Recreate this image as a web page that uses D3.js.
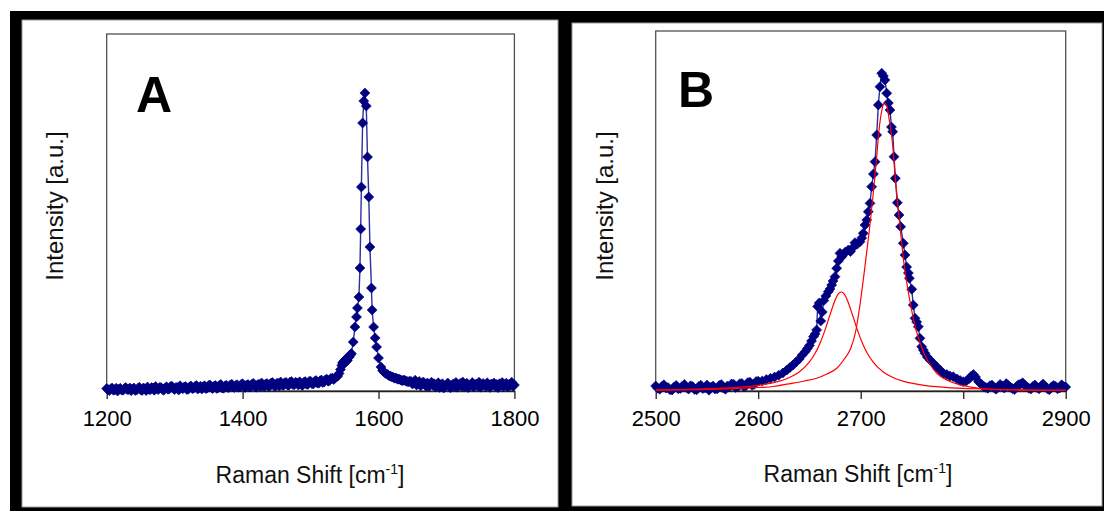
<!DOCTYPE html>
<html>
<head>
<meta charset="utf-8">
<script src="https://cdn.jsdelivr.net/npm/d3@7"></script>
<style>
  html, body { margin: 0; padding: 0; background: #fff; }
  svg { display: block; font-family: "Liberation Sans", Arial, sans-serif; }
</style>
</head>
<body>
<svg id="chart" width="1104" height="511"></svg>
<script>
// ---------- Panel A: G band region (1200–1800 cm-1) ----------
const shiftA = [
  1200,1202,1204,1206,1208,1210,1212,1214,1216,1218,
  1220,1222,1224,1226,1228,1230,1232,1234,1236,1238,
  1240,1242,1244,1246,1248,1250,1252,1254,1256,1258,
  1260,1262,1264,1266,1268,1270,1272,1274,1276,1278,
  1280,1282,1284,1286,1288,1290,1292,1294,1296,1298,
  1300,1302,1304,1306,1308,1310,1312,1314,1316,1318,
  1320,1322,1324,1326,1328,1330,1332,1334,1336,1338,
  1340,1342,1344,1346,1348,1350,1352,1354,1356,1358,
  1360,1362,1364,1366,1368,1370,1372,1374,1376,1378,
  1380,1382,1384,1386,1388,1390,1392,1394,1396,1398,
  1400,1402,1404,1406,1408,1410,1412,1414,1416,1418,
  1420,1422,1424,1426,1428,1430,1432,1434,1436,1438,
  1440,1442,1444,1446,1448,1450,1452,1454,1456,1458,
  1460,1462,1464,1466,1468,1470,1472,1474,1476,1478,
  1480,1482,1484,1486,1488,1490,1492,1494,1496,1498,
  1500,1502,1504,1506,1508,1510,1512,1514,1516,1518,
  1520,1522,1524,1526,1528,1530,1532,1534,1536,1538,
  1540,
  1542,1544,1546,1547,1548,1549,1550,1551,1552,1553,1554,1555,1556,1557,1558,1559,1560,
  1562.8,1565.3,1567.6,1569,1571.2,1572.7,1573.8,1574.8,1576.6,1578.3,1580,1582,1583.8,1585.7,
  1587.4,1589.6,1590.6,1592.8,1595,1597.2,1600,1603.6,
  1606,1608,1610,1612,1614,1616,1618,1620,1622,1624,1626,1628,1630,1632,1634,1636,1638,1640,1642,1644,1646,
  1648,1650,1652,1654,1656,1658,1660,1662,1664,1666,
  1668,1670,1672,1674,1676,1678,1680,1682,1684,1686,
  1688,1690,1692,1694,1696,1698,1700,1702,1704,1706,
  1708,1710,1712,1714,1716,1718,1720,1722,1724,1726,
  1728,1730,1732,1734,1736,1738,1740,1742,1744,1746,
  1748,1750,1752,1754,1756,1758,1760,1762,1764,1766,
  1768,1770,1772,1774,1776,1778,1780,1782,1784,1786,
  1788,1790,1792,1794,1796,1798,1800
];
const intensityA = [
  25,12,5,22,30,8,12,28,0,18,
  28,10,8,24,35,14,15,30,3,20,
  30,6,10,26,38,12,6,30,22,4,
  40,18,12,34,30,8,45,22,14,36,
  35,14,8,30,42,18,20,44,48,26,
  14,36,34,10,52,30,22,40,44,16,
  18,42,50,24,28,46,55,20,32,48,
  20,42,52,24,30,54,60,34,26,48,
  54,26,32,58,64,30,28,50,58,36,
  36,60,68,40,34,56,62,38,40,66,
  72,44,36,60,64,40,42,70,76,46,
  38,62,68,44,80,52,44,70,74,48,
  50,80,84,56,46,74,78,50,90,62,
  54,82,86,60,58,90,94,64,62,88,
  80,60,92,66,56,86,94,68,66,96,
  98,74,70,96,104,80,78,102,110,86,
  90,112,118,98,106,126,128,116,128,140,
  150,
  175,215,255,280,290,270,300,310,320,300,305,330,345,340,355,365,375,
  490,640,740,830,940,1230,1620,2040,2680,2900,2980,2850,2340,1940,
  1440,1030,810,640,530,440,330,240,
  205,190,178,170,162,150,148,140,136,128,130,118,120,112,106,104,110,100,94,92,98,
  95,70,84,108,60,78,96,52,74,90,
  66,48,80,44,62,88,58,72,40,66,
  82,36,58,72,30,52,62,80,46,32,
  58,70,46,86,38,60,74,50,90,42,
  64,78,34,56,64,84,40,62,70,50,
  88,38,58,76,60,44,82,54,36,70,
  62,80,48,66,34,72,58,84,46,64,
  78,40,66,56,88,50,60
];
const ticksA = [1200, 1400, 1600, 1800];

// ---------- Panel B: 2D band region (2500–2900 cm-1) ----------
const shiftB = [
  2500,2502,2504,2506,2508,2510,2512,2514,2516,2518,
  2520,2522,2524,2526,2528,2530,2532,2534,2536,2538,
  2540,2542,2544,2546,2548,2550,2552,2554,2556,2558,
  2560,2562,2564,2566,2568,2570,2572,2574,2576,2578,
  2580,2582,2584,2586,2588,2590,2592,2594,2596,2598,
  2600,
  2604,2608,2612,2616,2620,2624,2628,2631,2634,2637,2640,2643,2646,2648,
  2650,2652,2654,2655.5,2657,2658,2659.5,2661,2662.5,2664,2666,2668.4,2670,2671.7,2673,2674.9,2676.6,
  2678.2,2679.8,2681.5,2683,2685,2687.9,2690,2692,2694.4,2696.7,2699.3,2701,2702.5,2704.2,2705.9,2707.4,
  2709.1,2710.7,2712.4,2714,2715.6,2717.2,2718.8,2720.5,2722.1,2723.7,2725.4,2727,2728.6,2730,2731.2,
  2732.5,2733.8,2735.7,2737.4,2739,2741.6,2743.2,2744.8,2746.5,2747.5,2749.8,2751.3,2753,2754.6,2756.2,
  2757.8,2759.5,2761.1,2762.7,2765,2767.6,2771,2774.1,2777.4,2780.6,2784,2787,2790.3,2794,2797,2800,
  2803,2806,2808,2810,2812,2815,2818,2820,
  2822,2824,2826,2828,2830,2832,2834,2836,2838,2840,
  2842,2844,2846,2848,2850,2852,2854,2856,2858,2860,
  2862,2864,2866,2868,2870,2872,2874,2876,2878,2880,
  2882,2884,2886,2888,2890,2892,2894,2896,2898,2900
];
const intensityB = [
  50,28,18,44,62,30,34,12,10,40,
  56,22,26,48,66,36,20,52,44,16,
  12,46,58,24,32,60,8,38,50,20,
  22,56,64,30,18,50,42,70,68,34,
  40,72,76,44,52,84,88,58,66,94,
  98,
  100,115,127,140,158,180,210,235,260,290,320,360,395,425,
  455,500,545,570,610,845,880,700,790,905,950,993,1020,1060,1100,1143,1227,
  1300,1377,1343,1365,1390,1410,1395,1430,1483,1470,1493,1530,1577,1660,1710,1793,
  1877,2043,2170,2293,2560,2860,3043,3177,3150,3110,2977,2880,2810,2640,2593,
  2343,2127,1883,1760,1643,1477,1360,1240,1180,1127,1017,860,727,690,643,
  527,443,410,377,340,310,275,243,210,177,165,150,143,120,105,93,
  100,125,150,165,140,93,65,45,
  36,28,52,60,34,18,42,66,48,30,
  74,56,38,24,14,44,62,70,82,58,
  40,28,20,46,60,34,22,50,70,42,
  24,12,38,56,48,22,30,62,44,40
];
const ticksB = [2500, 2600, 2700, 2800, 2900];

// Lorentzian components fitted to the 2D band
const fitSmallShift = [2500,2540,2580,2600,2620,2630,2640,2650,2655,2660,2665,2670,2675,2678,2681,
  2684,2687,2692,2697,2702,2707,2712,2722,2732,2742,2762,2782,2822,2862,2900];
const fitSmallInt = [12,20,37,57,96,132,190,291,368,471,604,760,908,968,990,
  968,908,760,604,471,368,291,190,132,96,57,37,20,12,8];
const fitLargeShift = [2500,2540,2570,2600,2615,2630,2645,2657,2667,2677,2684,2690,2695,2699,2703,
  2706,2709,2712,2715,2718,2720.5,2723,2725.5,2728,2731,2734,2737,2740,2742,2745,2748,2753,2758,
  2762,2768,2774,2785,2797,2810,2823,2850,2900];
const fitLargeInt = [8,14,22,35,45,72,100,127,170,230,320,420,590,840,1150,
  1400,1660,1950,2270,2620,2800,2880,2850,2700,2480,2100,1780,1480,1290,1080,900,650,480,
  370,260,180,105,60,35,18,10,5];

// ---------- Drawing ----------
const svg = d3.select("#chart");
const FONT = '"Liberation Sans", Arial, sans-serif';

// black mat behind both panels
svg.append("rect").attr("x", 10).attr("y", 11).attr("width", 1094).attr("height", 500).attr("fill", "#000");

const diamond = "M0,-5L5,0L0,5L-5,0Z";

function drawPanel(cfg) {
  const g = svg.append("g");
  g.append("rect")
    .attr("x", cfg.frame.x).attr("y", cfg.frame.y)
    .attr("width", cfg.frame.w).attr("height", cfg.frame.h)
    .attr("fill", "#fff").attr("stroke", "#9a9a9a").attr("stroke-width", 1);

  const x = d3.scaleLinear().domain(cfg.xDomain).range([cfg.plot.left, cfg.plot.right]);
  const y = d3.scaleLinear().domain(cfg.yDomain).range([cfg.plot.bottom, cfg.plot.top]);

  // plot box
  g.append("rect")
    .attr("x", cfg.plot.left).attr("y", cfg.plot.top)
    .attr("width", cfg.plot.right - cfg.plot.left)
    .attr("height", cfg.plot.bottom - cfg.plot.top)
    .attr("fill", "none").attr("stroke", "#505050").attr("stroke-width", 1.3);

  // x axis
  const axis = d3.axisBottom(x).tickValues(cfg.ticks).tickSize(8).tickSizeOuter(0)
    .tickPadding(11).tickFormat(d3.format("d"));
  const ax = g.append("g").attr("transform", `translate(0,${cfg.plot.bottom})`).call(axis);
  ax.select(".domain").attr("stroke", "#222").attr("stroke-width", 1.3);
  ax.selectAll(".tick line").attr("stroke", "#222").attr("stroke-width", 1.3);
  ax.selectAll(".tick text").attr("font-size", 22).attr("font-family", FONT).attr("fill", "#000");

  // measured spectrum: connecting line then diamond markers
  const pts = d3.zip(cfg.shift, cfg.intensity);
  const line = d3.line().x(d => x(d[0])).y(d => y(d[1]));
  g.append("path").datum(pts).attr("d", line)
    .attr("fill", "none").attr("stroke", "#2e2e9c").attr("stroke-width", 1.4);
  g.append("g").selectAll("path").data(pts).join("path")
    .attr("transform", d => `translate(${x(d[0])},${y(d[1])})`)
    .attr("d", diamond).attr("fill", "#000080")
    .attr("stroke", "#000080").attr("stroke-width", 0.6);

  // fitted components
  (cfg.fits || []).forEach(f => {
    const fl = d3.line().x(d => x(d[0])).y(d => y(d[1])).curve(d3.curveMonotoneX);
    g.append("path").datum(d3.zip(f.shift, f.intensity)).attr("d", fl)
      .attr("fill", "none").attr("stroke", "#ff0000").attr("stroke-width", 1.2);
  });

  // panel letter
  g.append("text").attr("x", cfg.letter.x).attr("y", cfg.letter.y)
    .attr("font-size", 50).attr("font-weight", "bold").attr("font-family", FONT)
    .attr("fill", "#000").text(cfg.letter.text);

  // axis titles
  const xt = g.append("text").attr("x", cfg.xTitle.x).attr("y", cfg.xTitle.y)
    .attr("text-anchor", "middle").attr("font-size", 23).attr("font-family", FONT).attr("fill", "#111");
  xt.append("tspan").text("Raman Shift [cm");
  xt.append("tspan").attr("font-size", 14).attr("dy", -9).text("-1");
  xt.append("tspan").attr("dy", 9).text("]");

  g.append("text")
    .attr("transform", `translate(${cfg.yTitle.x},${cfg.yTitle.y}) rotate(-90)`)
    .attr("text-anchor", "middle").attr("font-size", 24).attr("font-family", FONT).attr("fill", "#111")
    .text("Intensity [a.u.]");
}

drawPanel({
  frame: { x: 22, y: 20, w: 536, h: 487 },
  plot: { left: 106.7, right: 514.4, top: 34, bottom: 391 },
  xDomain: [1200, 1800], yDomain: [0, 3570], ticks: ticksA,
  shift: shiftA, intensity: intensityA,
  letter: { text: "A", x: 136, y: 112 },
  xTitle: { x: 310, y: 483 },
  yTitle: { x: 62.5, y: 206 }
});

drawPanel({
  frame: { x: 572, y: 23, w: 530, h: 483 },
  plot: { left: 655.7, right: 1065.7, top: 31, bottom: 391 },
  xDomain: [2500, 2900], yDomain: [0, 3600], ticks: ticksB,
  shift: shiftB, intensity: intensityB,
  fits: [
    { shift: fitSmallShift, intensity: fitSmallInt },
    { shift: fitLargeShift, intensity: fitLargeInt }
  ],
  letter: { text: "B", x: 678, y: 107 },
  xTitle: { x: 858, y: 482 },
  yTitle: { x: 613, y: 206 }
});
</script>
</body>
</html>
